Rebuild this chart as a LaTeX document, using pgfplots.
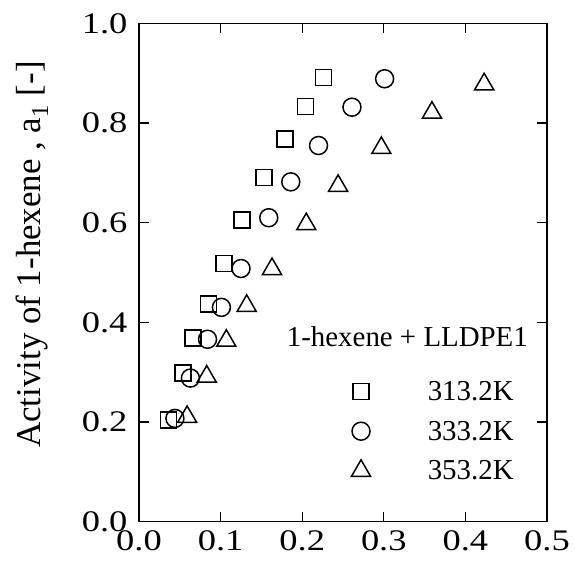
\documentclass[border=0pt]{standalone}
\usepackage{fontspec}
\setmainfont{Liberation Serif}
\newfontfamily\tickfont[FakeStretch=1.22]{Liberation Serif}
\usepackage{pgfplots}
\pgfplotsset{compat=1.18}
\begin{document}
\begin{tikzpicture}
\begin{axis}[
  scale only axis, width=408bp, height=498bp,
  xmin=0, xmax=0.5, ymin=0, ymax=1,
  xtick={0,0.1,0.2,0.3,0.4,0.5},
  ytick={0,0.2,0.4,0.6,0.8,1.0},
  /pgf/number format/assume math mode=true,
  /pgf/number format/.cd, fixed, fixed zerofill, precision=1, /pgfplots/.cd,
  tick align=inside, major tick length=10bp,
  tick style={line width=1.2bp, black},
  axis line style={line width=1.6bp},
  ticklabel style={font=\tickfont\fontsize{30}{32}\selectfont},
  xticklabel style={yshift=-6bp},
  yticklabel style={xshift=-8bp},
  ylabel={Activity of 1-hexene , a\textsubscript{1} [-]},
  ylabel style={at={(axis description cs:-0.262,0.536)}, anchor=center, font=\fontsize{35}{37}\selectfont},
  myleg/.style={legend image code/.code={\draw[##1] plot coordinates {(0bp,0bp)}; \path (-10bp,-10bp) (64bp,10bp);}},
  legend style={draw=none, fill=none, at={(axis cs:0.255,0.29)}, anchor=north west,
    font=\fontsize{29}{31}\selectfont, row sep=15bp},
  legend cell align=left,
]
\addplot[only marks, mark=square, mark size=8bp, line width=1.5bp, myleg] coordinates {
(0.036,0.204)(0.054,0.298)(0.066,0.368)(0.085,0.437)(0.104,0.518)
(0.126,0.605)(0.153,0.691)(0.179,0.768)(0.204,0.833)(0.226,0.892)};
\addlegendentry{313.2K}
\addplot[only marks, mark=o, mark size=9bp, line width=1.5bp, myleg] coordinates {
(0.044,0.207)(0.063,0.288)(0.084,0.366)(0.101,0.430)(0.125,0.508)
(0.159,0.610)(0.186,0.682)(0.220,0.755)(0.261,0.832)(0.301,0.889)};
\addlegendentry{333.2K}
\addplot[only marks, mark=triangle, mark size=11bp, line width=1.5bp, myleg] coordinates {
(0.059,0.210)(0.083,0.291)(0.107,0.363)(0.132,0.433)(0.163,0.507)
(0.205,0.597)(0.244,0.674)(0.297,0.750)(0.359,0.821)(0.423,0.878)};
\addlegendentry{353.2K}
\node[anchor=west, font=\fontsize{29}{31}\selectfont, inner sep=0pt] at (axis cs:0.181,0.371) {1-hexene + LLDPE1};
\coordinate (sw) at (rel axis cs:0,0);
\coordinate (ne) at (rel axis cs:1,1);
\end{axis}
\pgfresetboundingbox
\path[use as bounding box] ([shift={(-139bp,-47.5bp)}]sw) rectangle ([shift={(28bp,23.5bp)}]ne);
\end{tikzpicture}
\end{document}
